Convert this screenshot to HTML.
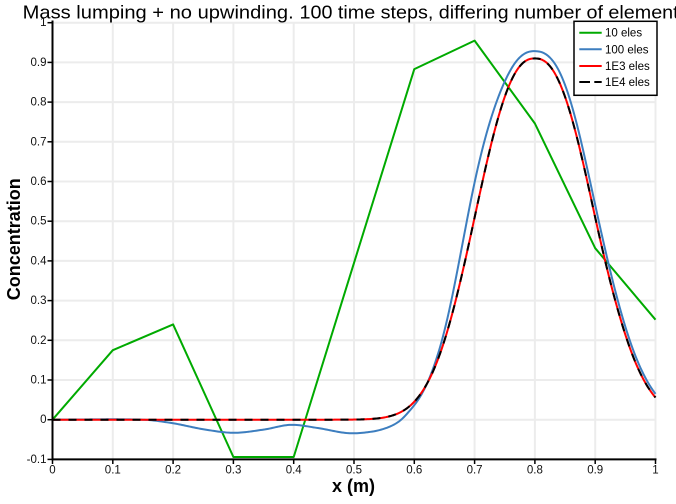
<!DOCTYPE html>
<html><head><meta charset="utf-8"><style>
html,body{margin:0;padding:0;background:#fff;}
svg{display:block;font-family:"Liberation Sans",sans-serif;}
</style></head><body>
<svg id="s" width="676" height="504" viewBox="0 0 676 504" xmlns="http://www.w3.org/2000/svg">
<rect width="676" height="504" fill="#fff"/>
<g stroke="#ececec" stroke-width="2" fill="none">
<line x1="112.8" y1="22.7" x2="112.8" y2="459.4"/>
<line x1="173.1" y1="22.7" x2="173.1" y2="459.4"/>
<line x1="233.4" y1="22.7" x2="233.4" y2="459.4"/>
<line x1="293.7" y1="22.7" x2="293.7" y2="459.4"/>
<line x1="354" y1="22.7" x2="354" y2="459.4"/>
<line x1="414.3" y1="22.7" x2="414.3" y2="459.4"/>
<line x1="474.6" y1="22.7" x2="474.6" y2="459.4"/>
<line x1="534.9" y1="22.7" x2="534.9" y2="459.4"/>
<line x1="595.2" y1="22.7" x2="595.2" y2="459.4"/>
<line x1="655.5" y1="22.7" x2="655.5" y2="459.4"/>
<line x1="52.5" y1="22.7" x2="655.5" y2="22.7"/>
<line x1="52.5" y1="62.4" x2="655.5" y2="62.4"/>
<line x1="52.5" y1="102.1" x2="655.5" y2="102.1"/>
<line x1="52.5" y1="141.8" x2="655.5" y2="141.8"/>
<line x1="52.5" y1="181.5" x2="655.5" y2="181.5"/>
<line x1="52.5" y1="221.2" x2="655.5" y2="221.2"/>
<line x1="52.5" y1="260.9" x2="655.5" y2="260.9"/>
<line x1="52.5" y1="300.6" x2="655.5" y2="300.6"/>
<line x1="52.5" y1="340.3" x2="655.5" y2="340.3"/>
<line x1="52.5" y1="380" x2="655.5" y2="380"/>
<line x1="52.5" y1="419.7" x2="655.5" y2="419.7"/>
</g>
<g fill="none" stroke-width="2" stroke-linejoin="round">
<path stroke="#00aa00" d="M52.5,419.7 L112.8,350.2 L173.1,324.4 L233.4,457.0 L293.7,457.0 L354,262.9 L414.3,69.1 L474.6,40.6 L534.9,123.5 L595.2,248.2 L655.5,319.7"/>
<path id="pb" stroke="#3d7ebf" d=""/>
<path id="pr" stroke="#ff0000" d=""/>
<path id="pk" stroke="#000000" stroke-dasharray="8 8" d=""/>
</g>
<g stroke="#000" stroke-width="2">
<line x1="52.5" y1="20.5" x2="52.5" y2="460.4"/>
<line x1="51.5" y1="459.4" x2="656.5" y2="459.4"/>
</g>
<g stroke="#000" stroke-width="1.5">
<line x1="47.5" y1="22.7" x2="52.5" y2="22.7"/>
<line x1="47.5" y1="62.4" x2="52.5" y2="62.4"/>
<line x1="47.5" y1="102.1" x2="52.5" y2="102.1"/>
<line x1="47.5" y1="141.8" x2="52.5" y2="141.8"/>
<line x1="47.5" y1="181.5" x2="52.5" y2="181.5"/>
<line x1="47.5" y1="221.2" x2="52.5" y2="221.2"/>
<line x1="47.5" y1="260.9" x2="52.5" y2="260.9"/>
<line x1="47.5" y1="300.6" x2="52.5" y2="300.6"/>
<line x1="47.5" y1="340.3" x2="52.5" y2="340.3"/>
<line x1="47.5" y1="380" x2="52.5" y2="380"/>
<line x1="47.5" y1="419.7" x2="52.5" y2="419.7"/>
<line x1="47.5" y1="459.4" x2="52.5" y2="459.4"/>
<line x1="52.5" y1="459.4" x2="52.5" y2="464"/>
<line x1="112.8" y1="459.4" x2="112.8" y2="464"/>
<line x1="173.1" y1="459.4" x2="173.1" y2="464"/>
<line x1="233.4" y1="459.4" x2="233.4" y2="464"/>
<line x1="293.7" y1="459.4" x2="293.7" y2="464"/>
<line x1="354" y1="459.4" x2="354" y2="464"/>
<line x1="414.3" y1="459.4" x2="414.3" y2="464"/>
<line x1="474.6" y1="459.4" x2="474.6" y2="464"/>
<line x1="534.9" y1="459.4" x2="534.9" y2="464"/>
<line x1="595.2" y1="459.4" x2="595.2" y2="464"/>
<line x1="655.5" y1="459.4" x2="655.5" y2="464"/>
</g>
<g font-size="11.5" fill="#111" text-anchor="end">
<text x="46.5" y="26.2">1</text>
<text x="46.5" y="65.9">0.9</text>
<text x="46.5" y="105.6">0.8</text>
<text x="46.5" y="145.3">0.7</text>
<text x="46.5" y="185">0.6</text>
<text x="46.5" y="224.7">0.5</text>
<text x="46.5" y="264.4">0.4</text>
<text x="46.5" y="304.1">0.3</text>
<text x="46.5" y="343.8">0.2</text>
<text x="46.5" y="383.5">0.1</text>
<text x="46.5" y="423.2">0</text>
<text x="46.5" y="462.9">-0.1</text>
</g>
<g font-size="11.5" fill="#111" text-anchor="middle">
<text x="52.5" y="473.5">0</text>
<text x="112.8" y="473.5">0.1</text>
<text x="173.1" y="473.5">0.2</text>
<text x="233.4" y="473.5">0.3</text>
<text x="293.7" y="473.5">0.4</text>
<text x="354" y="473.5">0.5</text>
<text x="414.3" y="473.5">0.6</text>
<text x="474.6" y="473.5">0.7</text>
<text x="534.9" y="473.5">0.8</text>
<text x="595.2" y="473.5">0.9</text>
<text x="655.5" y="473.5">1</text>
</g>
<text x="353.5" y="492" font-size="18" font-weight="bold" text-anchor="middle" fill="#000">x (m)</text>
<text transform="translate(20,239.2) rotate(-90)" font-size="18" font-weight="bold" text-anchor="middle" fill="#000">Concentration</text>
<g font-size="18" fill="#000">
<text x="22.7" y="18.3" textLength="271" lengthAdjust="spacingAndGlyphs">Mass lumping + no upwinding.</text>
<text x="299.5" y="18.3" textLength="389" lengthAdjust="spacingAndGlyphs">100 time steps, differing number of elements</text>
</g>
<rect x="574" y="21.3" width="83" height="74" fill="#fff" stroke="#000" stroke-width="1.5"/>
<g stroke-width="2">
<line x1="579.3" y1="32.7" x2="601.7" y2="32.7" stroke="#00aa00"/>
<line x1="579.3" y1="49.3" x2="601.7" y2="49.3" stroke="#3d7ebf"/>
<line x1="579.3" y1="66" x2="601.7" y2="66" stroke="#ff0000"/>
<line x1="579.3" y1="82" x2="590" y2="82" stroke="#000"/>
<line x1="594.3" y1="82" x2="601.7" y2="82" stroke="#000"/>
</g>
<g font-size="11.5" fill="#000">
<text x="605" y="36.7">10 eles</text>
<text x="605" y="53.3">100 eles</text>
<text x="605" y="70">1E3 eles</text>
<text x="605" y="86">1E4 eles</text>
</g>
</svg>
<script>
(function(){
var X=function(v){return 52.5+v*603;}, Y=function(v){return 419.7-v*397;};
function cr(pts,x){
  var n=pts.length; if(x<=pts[0][0])return pts[0][1]; if(x>=pts[n-1][0])return pts[n-1][1];
  var i=0; while(x>pts[i+1][0])i++;
  var p0=pts[Math.max(i-1,0)],p1=pts[i],p2=pts[i+1],p3=pts[Math.min(i+2,n-1)];
  var h=p2[0]-p1[0], t=(x-p1[0])/h;
  var m1=(p2[1]-p0[1])/(p2[0]-p0[0]), m2=(p3[1]-p1[1])/(p3[0]-p1[0]);
  var t2=t*t,t3=t2*t;
  return (2*t3-3*t2+1)*p1[1]+(t3-2*t2+t)*h*m1+(-2*t3+3*t2)*p2[1]+(t3-t2)*h*m2;
}
var rsh=[[0.8,0],[0.9,0],[0.95,0.003],[1.0,0.006]];
function red0(x){var d=Math.abs(x-0.8);return 0.91*Math.exp(-Math.pow(d/0.1258,2.37));}
function red(x){ if(x>0.9) return red0(x-cr(rsh,x)); return red0(x); }
var g=[[0,0],[0.15,0],[0.2,-0.009],[0.25,-0.024],[0.3,-0.033],[0.35,-0.025],[0.395,-0.013],[0.44,-0.021],[0.49,-0.034],[0.53,-0.032],[0.56,-0.026],[0.576,-0.021],[0.593,-0.012],[0.61,-0.007],[0.64,-0.002],[0.68,0],[1,0]];
var sh=[[0,0],[0.6,0],[0.64,0.003],[0.70,0.011],[0.76,0.004],[0.8,0]];
var shr=[[0.8,0],[0.84,0.003],[0.9,0.003],[0.95,0.006],[1.0,0.01]];
function blue(x){
  if(x<=0.8) return 1.02*red0(x+cr(sh,x))+cr(g,x);
  return 1.02*red0(x-cr(shr,x));
}
function path(f){
  var s='';
  for(var i=0;i<=400;i++){var x=i/400;s+=(i?'L':'M')+X(x).toFixed(2)+','+Y(f(x)).toFixed(2);}
  return s;
}
document.getElementById('pb').setAttribute('d',path(blue));
var r=path(red);
document.getElementById('pr').setAttribute('d',r);
document.getElementById('pk').setAttribute('d',r);
})();
</script>
</body></html>
